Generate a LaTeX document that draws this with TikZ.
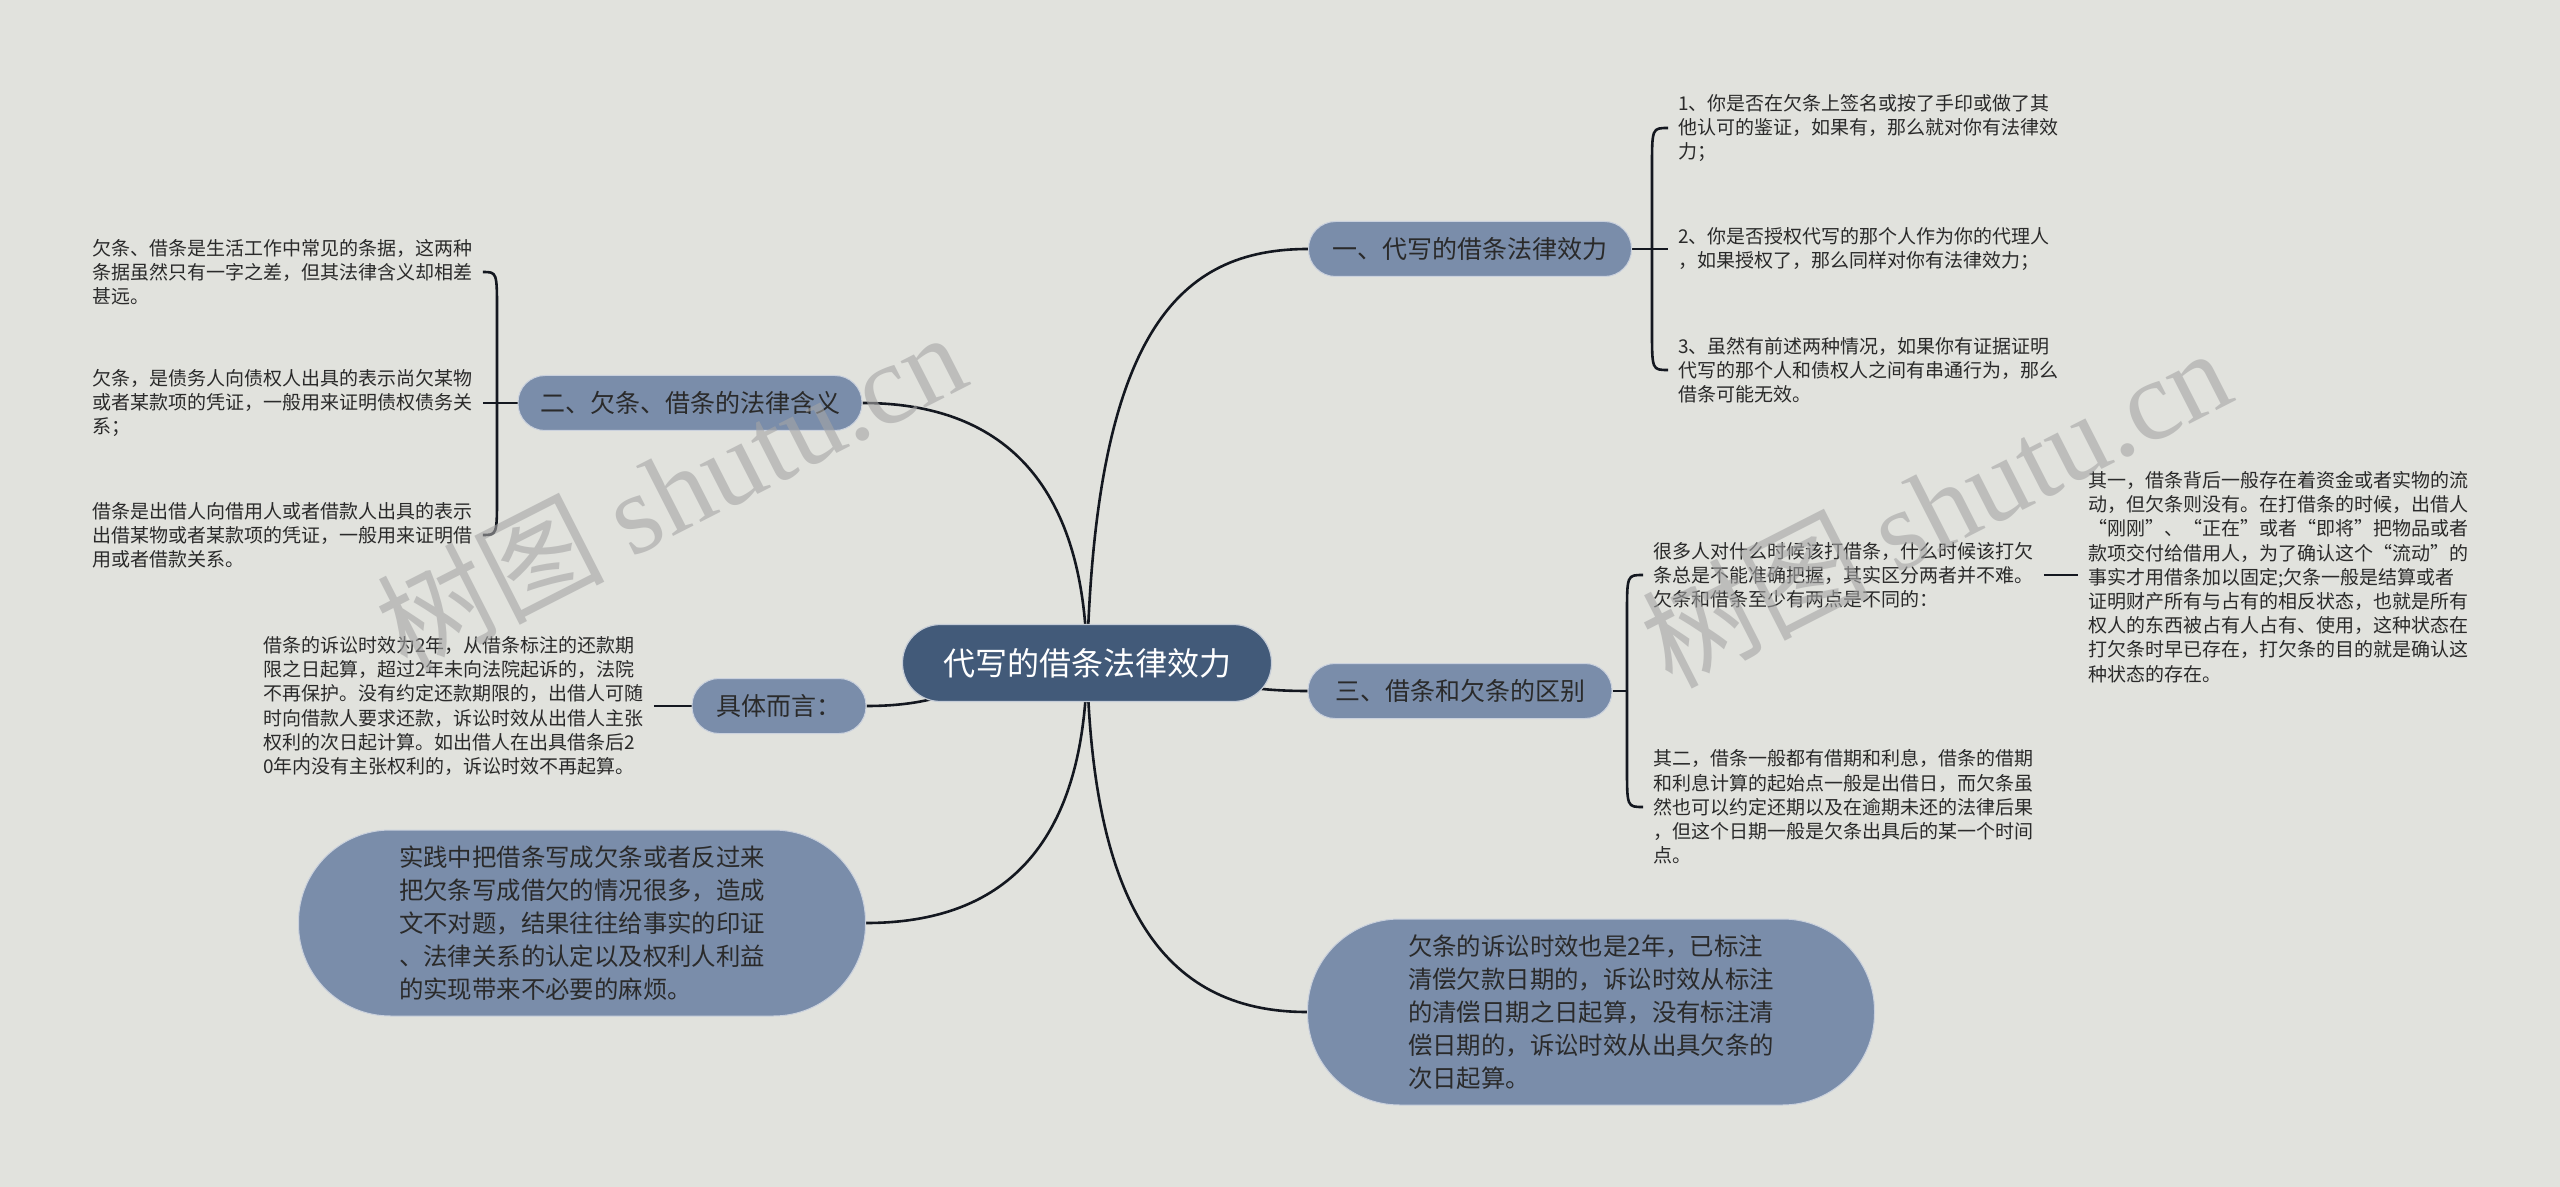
\documentclass[tikz,border=0pt]{standalone}
\usepackage{fontspec}
\setmainfont{Noto Sans CJK SC}
\newfontfamily\fwq[RawFeature=+fwid]{Noto Sans CJK SC}
\newfontfamily\wmlatin{Liberation Serif}
\usetikzlibrary{calc}
\definecolor{paper}{RGB}{225,226,221}
\definecolor{rootblue}{RGB}{66,90,121}
\definecolor{topicblue}{RGB}{122,141,170}
\definecolor{linkblack}{RGB}{20,24,32}
\definecolor{inkgray}{RGB}{42,42,42}
\definecolor{wmgray}{RGB}{165,165,165}
\pgfdeclarelayer{paperlayer}
\pgfdeclarelayer{linklayer}
\pgfsetlayers{paperlayer,linklayer,main}

\begin{document}
\begin{tikzpicture}[x=0.5pt, y=-0.5pt,
  root/.style={fill=rootblue, draw=white!70!rootblue, line width=0.6pt, text=white,
    rounded corners=19pt, minimum width=184.5pt, minimum height=38.5pt,
    font=\fontsize{16}{19}\selectfont},
  topic/.style={fill=topicblue, draw=white!60!topicblue, line width=0.5pt, text=inkgray,
    rounded corners=13.5pt, minimum height=27.5pt, font=\fontsize{12.5}{15}\selectfont},
  bubble/.style={fill=topicblue, draw=white!60!topicblue, line width=0.5pt, text=inkgray,
    rounded corners=46pt, minimum width=283.5pt, minimum height=93pt, align=left,
    font=\fontsize{12.2}{16.5}\selectfont},
  leaf/.style={anchor=west, align=left, text=inkgray, inner xsep=5pt, inner ysep=2pt,
    font=\fontsize{9.5}{12.1}\selectfont},
  link/.style={draw=linkblack, line width=1.3pt},
  wmark/.style={text=wmgray, text opacity=0.6, rotate=27, font=\fontsize{57}{57}\selectfont}]
  \useasboundingbox (0,0) rectangle (2560,1187);
  \begin{pgfonlayer}{paperlayer}
    \fill[paper] (0,0) rectangle (2560,1187);
  \end{pgfonlayer}

  % centre and main topics
  \node[root] (c) at (1087,663) {代写的借条法律效力};
  \node[topic, minimum width=161.5pt] (b1) at (1470,249) {一、代写的借条法律效力};
  \node[topic, minimum width=172pt] (b2) at (690,403) {二、欠条、借条的法律含义};
  \node[topic, minimum width=152pt] (b3) at (1460,691) {三、借条和欠条的区别};
  \node[topic, minimum width=87pt] (b4) at (779,706) {具体而言：};
  \node[bubble] (bl) at (582,923) {实践中把借条写成欠条或者反过来\\把欠条写成借欠的情况很多，造成\\文不对题，结果往往给事实的印证\\、法律关系的认定以及权利人利益\\的实现带来不必要的麻烦。};
  \node[bubble] (br) at (1591,1012) {欠条的诉讼时效也是2年，已标注\\清偿欠款日期的，诉讼时效从标注\\的清偿日期之日起算，没有标注清\\偿日期的，诉讼时效从出具欠条的\\次日起算。};

  % leaves of topic one
  \node[leaf] (t1) at (1668,128) {1、你是否在欠条上签名或按了手印或做了其\\他认可的鉴证，如果有，那么就对你有法律效\\力；};
  \node[leaf] (t2) at (1668,249) {2、你是否授权代写的那个人作为你的代理人\\，如果授权了，那么同样对你有法律效力；};
  \node[leaf] (t3) at (1668,370) {3、虽然有前述两种情况，如果你有证据证明\\代写的那个人和债权人之间有串通行为，那么\\借条可能无效。};
  \coordinate (j1) at (1652,249);

  % leaves of topic two
  \node[leaf] (s1) at (82,272) {欠条、借条是生活工作中常见的条据，这两种\\条据虽然只有一字之差，但其法律含义却相差\\甚远。};
  \node[leaf] (s2) at (82,403) {欠条，是债务人向债权人出具的表示尚欠某物\\或者某款项的凭证，一般用来证明债权债务关\\系；};
  \node[leaf] (s3) at (82,535) {借条是出借人向借用人或者借款人出具的表示\\出借某物或者某款项的凭证，一般用来证明借\\用或者借款关系。};
  \coordinate (j2) at (497,403);

  % leaves of topic three
  \node[leaf] (r1) at (1643,575) {很多人对什么时候该打借条，什么时候该打欠\\条总是不能准确把握，其实区分两者并不难。\\欠条和借条至少有两点是不同的：};
  \node[leaf] (r2) at (1643,807) {其二，借条一般都有借期和利息，借条的借期\\和利息计算的起始点一般是出借日，而欠条虽\\然也可以约定还期以及在逾期未还的法律后果\\，但这个日期一般是欠条出具后的某一个时间\\点。};
  \node[leaf] (q1) at (2078,577) {其一，借条背后一般存在着资金或者实物的流\\动，但欠条则没有。在打借条的时候，出借人\\{\fwq “刚刚”、“正在”或者“即将”把物品或者}\\款项交付给借用人，为了确认这个{\fwq “流动”}的\\事实才用借条加以固定;欠条一般是结算或者\\证明财产所有与占有的相反状态，也就是所有\\权人的东西被占有人占有、使用，这种状态在\\打欠条时早已存在，打欠条的目的就是确认这\\种状态的存在。};
  \coordinate (j3) at (1627,691);

  % leaf of 具体而言
  \node[leaf] (k1) at (253,706) {借条的诉讼时效为2年，从借条标注的还款期\\限之日起算，超过2年未向法院起诉的，法院\\不再保护。没有约定还款期限的，出借人可随\\时向借款人要求还款，诉讼时效从出借人主张\\权利的次日起计算。如出借人在出具借条后2\\0年内没有主张权利的，诉讼时效不再起算。};

  \begin{pgfonlayer}{linklayer}
    % from the centre
    \draw[link] (c.center) .. controls (1095,330) and (1180,249) .. (b1.west);
    \draw[link] (c.center) .. controls (1085,480) and (1000,403) .. (b2.east);
    \draw[link] (c.center) .. controls (1200,663) and (1200,691) .. (b3.west);
    \draw[link] (c.center) .. controls (975,663) and (975,706) .. (b4.east);
    \draw[link] (c.center) .. controls (1085,850) and (1000,923) .. (bl.east);
    \draw[link] (c.center) .. controls (1092,900) and (1160,1012) .. (br.west);
    % brackets
    \draw[link] (b1.east) -- (t2.west);
    \draw[link] (t1.west) .. controls (t1.west -| j1) .. ($(t1.west -| j1)+(0,40)$)
      -- ($(t3.west -| j1)+(0,-40)$) .. controls (t3.west -| j1) .. (t3.west);
    \draw[link] (b2.west) -- (s2.east);
    \draw[link] (s1.east) .. controls (s1.east -| j2) .. ($(s1.east -| j2)+(0,40)$)
      -- ($(s3.east -| j2)+(0,-40)$) .. controls (s3.east -| j2) .. (s3.east);
    \draw[link] (b3.east) -- (j3);
    \draw[link] (r1.west) .. controls (r1.west -| j3) .. ($(r1.west -| j3)+(0,40)$)
      -- ($(r2.west -| j3)+(0,-40)$) .. controls (r2.west -| j3) .. (r2.west);
    \draw[link] (r1.east) -- (r1.east -| q1.west);
    \draw[link] (k1.east) -- (b4.west);
  \end{pgfonlayer}

  % watermarks
  \node[wmark] (wm1) at (670,490) {树图 {\wmlatin shutu.cn}};
  \node[wmark] (wm2) at (1935,506) {树图 {\wmlatin shutu.cn}};
\end{tikzpicture}
\end{document}
